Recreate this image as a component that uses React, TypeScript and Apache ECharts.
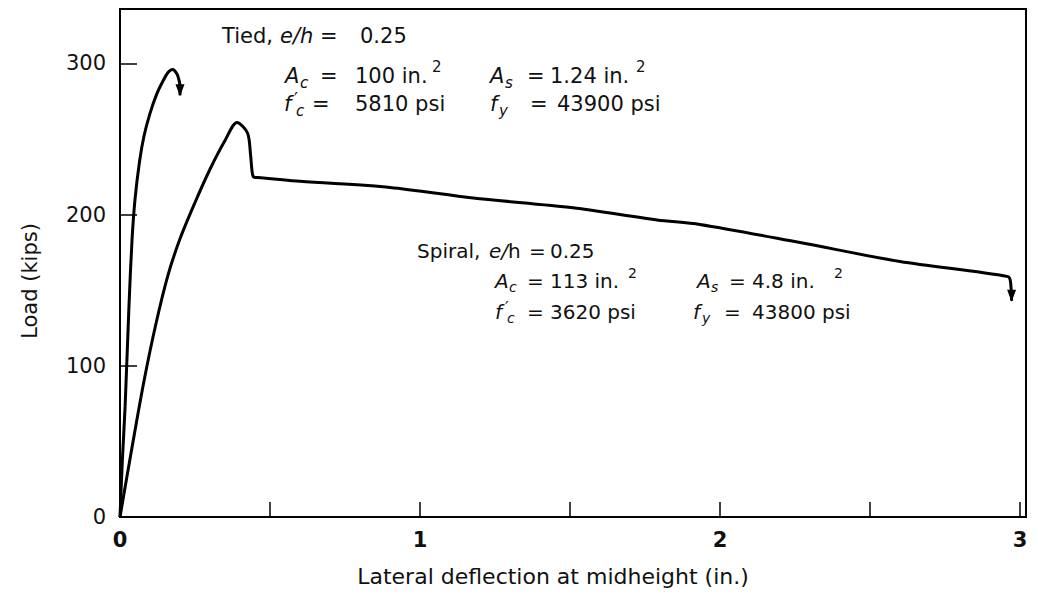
import React, { useEffect, useRef } from "react";
import * as echarts from "echarts";

// Lateral deflection at midheight (in.) vs load (kips)
const tiedDeflection = [0, 0.008, 0.017, 0.03, 0.04, 0.05, 0.065, 0.08, 0.1, 0.123, 0.145, 0.16, 0.175, 0.19, 0.198, 0.2, 0.2];
const tiedLoad = [0, 38, 73, 140, 183, 210, 235, 252, 267, 280, 289, 294, 296, 293, 288, 284, 279];

const spiralDeflection = [0, 0.04, 0.08, 0.12, 0.16, 0.2, 0.25, 0.3, 0.35, 0.39, 0.425, 0.435, 0.44, 0.445, 0.46, 0.6, 0.9, 1.177, 1.51, 1.79, 1.933, 2.267, 2.6, 2.96, 2.968, 2.972];
const spiralLoad = [0, 46, 90, 128, 160, 184, 208, 230, 249, 261, 254, 240, 229, 225, 224.5, 222, 218, 211, 204.5, 196.5, 193.5, 181.5, 169, 159, 156, 143];

const xTicks = [0, 1, 2, 3];
const yTicks = [0, 100, 200, 300];

const FONT = '"DejaVu Sans", "Liberation Sans", sans-serif';

function build(xs: number[], ys: number[]) {
  return xs.map((x, i) => {
    if (i === xs.length - 1) {
      return {
        value: [x, ys[i]],
        symbol: "triangle",
        symbolSize: [9, 12],
        symbolRotate: 180,
        symbolOffset: [0, -5],
        itemStyle: { color: "#000" },
      };
    }
    return { value: [x, ys[i]], symbol: "none" };
  });
}

function txt(x: number, y: number, text: string, size: number, style = "normal", weight = "normal") {
  return {
    type: "text",
    x,
    y,
    silent: true,
    style: {
      text,
      fill: "#111",
      font: `${style} ${weight} ${size}px ${FONT}`,
      textAlign: "left",
      textVerticalAlign: "middle",
    },
  };
}
const sub = (x: number, y: number, text: string, size: number) => txt(x, y + size * 0.32, text, Math.round(size * 0.72), "italic");
const sup = (x: number, y: number, text: string, size: number) => txt(x, y - size * 0.42, text, Math.round(size * 0.72));

export default function App() {
  const ref = useRef<HTMLDivElement>(null);
  useEffect(() => {
    if (!ref.current) return;
    const chart = echarts.init(ref.current, undefined, { renderer: "svg" });
    const T = 21;
    const S = 20;
    const ty1 = 36, ty2 = 76, ty3 = 104;
    const sy1 = 251, sy2 = 281, sy3 = 312;
    const graphic: any[] = [
      // Tied
      txt(222, ty1, "Tied,", T),
      txt(280, ty1, "e/h", T, "italic"),
      txt(320, ty1, "=", T),
      txt(360, ty1, "0.25", T),
      txt(285, ty2, "A", T, "italic"),
      sub(300, ty2, "c", T),
      txt(320, ty2, "=", T),
      txt(355, ty2, "100 in.", T),
      sup(432, ty2, "2", T),
      txt(490, ty2, "A", T, "italic"),
      sub(505, ty2, "s", T),
      txt(527, ty2, "=", T),
      txt(550, ty2, "1.24 in.", T),
      sup(636, ty2, "2", T),
      txt(284, ty3, "f", T, "italic"),
      txt(294, ty3 - 5, "′", Math.round(T * 0.8)),
      sub(296, ty3, "c", T),
      txt(312, ty3, "=", T),
      txt(355, ty3, "5810 psi", T),
      txt(490, ty3, "f", T, "italic"),
      sub(499, ty3, "y", T),
      txt(530, ty3, "=", T),
      txt(557, ty3, "43900 psi", T),
      // Spiral
      txt(417, sy1, "Spiral,", S),
      txt(489, sy1, "e/", S, "italic"),
      txt(508, sy1, "h", S),
      txt(529, sy1, "=", S),
      txt(550, sy1, "0.25", S),
      txt(495, sy2, "A", S, "italic"),
      sub(509, sy2, "c", S),
      txt(527, sy2, "=", S),
      txt(550, sy2, "113 in.", S),
      sup(628, sy2, "2", S),
      txt(697, sy2, "A", S, "italic"),
      sub(711, sy2, "s", S),
      txt(729, sy2, "=", S),
      txt(752, sy2, "4.8 in.", S),
      sup(834, sy2, "2", S),
      txt(495, sy3, "f", S, "italic"),
      txt(505, sy3 - 5, "′", Math.round(S * 0.8)),
      sub(507, sy3, "c", S),
      txt(527, sy3, "=", S),
      txt(550, sy3, "3620 psi", S),
      txt(693, sy3, "f", S, "italic"),
      sub(702, sy3, "y", S),
      txt(724, sy3, "=", S),
      txt(752, sy3, "43800 psi", S),
    ];
    chart.setOption({
      animation: false,
      backgroundColor: "#fff",
      grid: {
        left: 120,
        right: 12,
        top: 9,
        bottom: 81,
        show: true,
        borderColor: "#000",
        borderWidth: 2,
      },
      xAxis: {
        type: "value",
        min: 0,
        max: 3.02,
        interval: 0.5,
        name: "Lateral deflection at midheight (in.)",
        nameLocation: "middle",
        nameGap: 48,
        nameTextStyle: { fontFamily: FONT, fontSize: 22, color: "#111", padding: [0, 40, 0, 0] },
        axisLine: { show: true, lineStyle: { color: "#000", width: 2 } },
        axisTick: { show: true, inside: true, length: 15, lineStyle: { color: "#000", width: 1.5 } },
        splitLine: { show: false },
        axisLabel: {
          margin: 12,
          fontFamily: FONT,
          fontSize: 21,
          fontWeight: "bold",
          color: "#111",
          formatter: (v: number) => (xTicks.includes(v) ? String(v) : ""),
        },
      },
      yAxis: {
        type: "value",
        min: 0,
        max: 336,
        interval: 100,
        name: "Load (kips)",
        nameLocation: "middle",
        nameGap: 80,
        nameTextStyle: { fontFamily: FONT, fontSize: 21, color: "#111", padding: [0, 36, 0, 0] },
        axisLine: { show: true, lineStyle: { color: "#000", width: 2 } },
        axisTick: { show: true, inside: true, length: 17, lineStyle: { color: "#000", width: 1.5 } },
        splitLine: { show: false },
        axisLabel: {
          margin: 14,
          fontFamily: FONT,
          fontSize: 21,
          color: "#111",
          formatter: (v: number) => (yTicks.includes(v) ? String(v) : ""),
        },
      },
      series: [
        {
          name: "Tied",
          type: "line",
          data: build(tiedDeflection, tiedLoad),
          smooth: 0.3,
          lineStyle: { color: "#000", width: 3 },
          showSymbol: true,
          silent: true,
        },
        {
          name: "Spiral",
          type: "line",
          data: build(spiralDeflection, spiralLoad),
          smooth: 0.3,
          lineStyle: { color: "#000", width: 3 },
          showSymbol: true,
          silent: true,
        },
      ],
      graphic,
    });
    return () => chart.dispose();
  }, []);
  return <div ref={ref} style={{ position: "absolute", left: 0, top: 0, width: 1038, height: 598, background: "#fff" }} />;
}
